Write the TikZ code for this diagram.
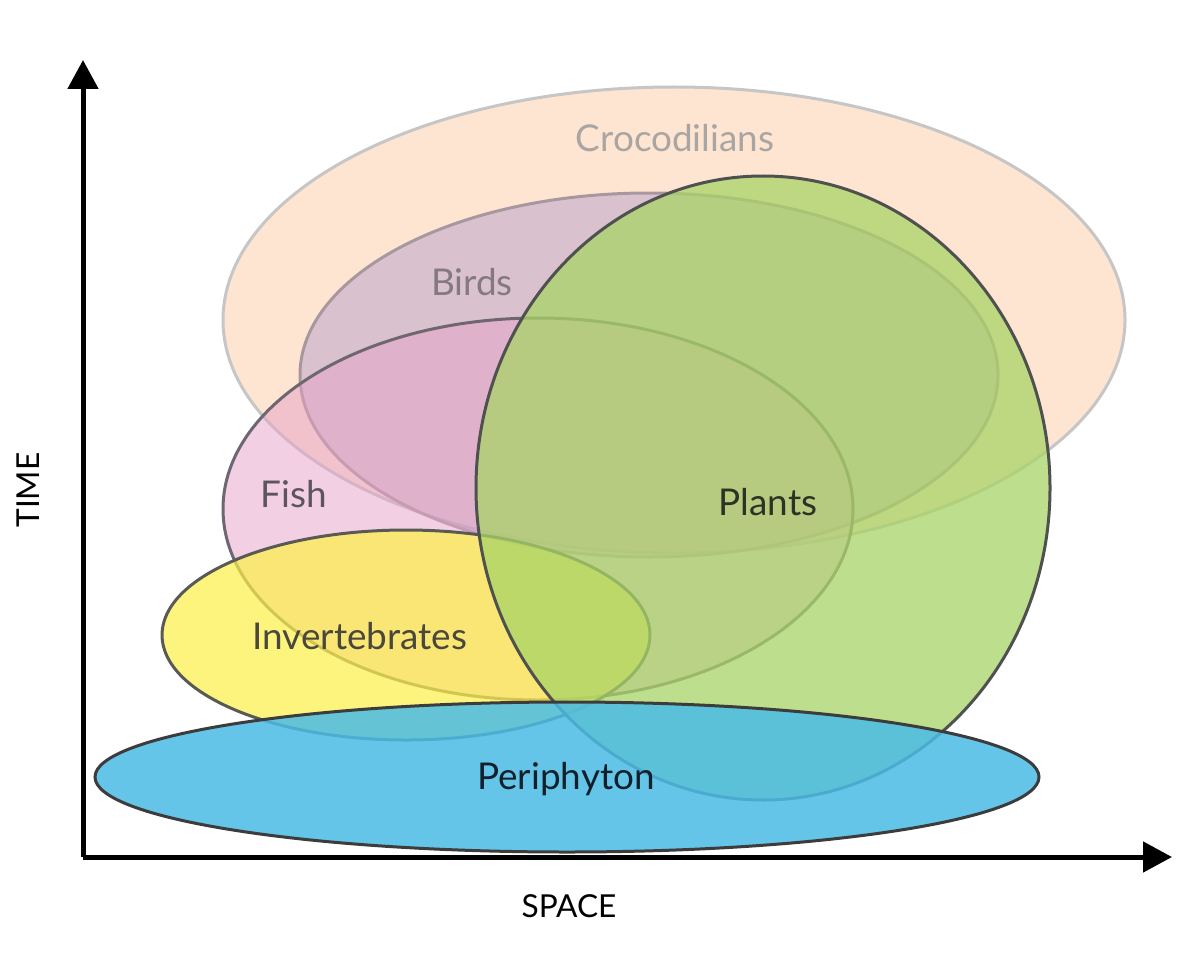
\documentclass[tikz,border=0pt]{standalone}
\usepackage{fontspec}
\setsansfont{Lato}
\usetikzlibrary{arrows.meta}
\definecolor{crocfill}{HTML}{FDE5D2}
\definecolor{crocline}{HTML}{C6C6C6}
\definecolor{croctext}{HTML}{A9A5A3}
\definecolor{birdfill}{HTML}{9682C8}
\definecolor{birdline}{HTML}{A8979F}
\definecolor{birdtext}{HTML}{857980}
\definecolor{fishfill}{HTML}{E7A1C7}
\definecolor{fishline}{HTML}{6E6670}
\definecolor{fishtext}{HTML}{5C5560}
\definecolor{invfill}{HTML}{FDF046}
\definecolor{invline}{HTML}{5A5A55}
\definecolor{invtext}{HTML}{4A473C}
\definecolor{plantfill}{HTML}{A8D466}
\definecolor{plantline}{HTML}{4F5050}
\definecolor{planttext}{HTML}{2C3325}
\definecolor{perifill}{HTML}{4ABCE6}
\definecolor{periline}{HTML}{3C3C3C}
\definecolor{peritext}{HTML}{11202A}

\begin{document}
\begin{tikzpicture}[
    x=0.02cm, y=-0.02cm,
    font=\sffamily,
    >={Triangle[length=0.58cm, width=0.6cm]},
    habitat/.style={line width=0.06cm},
    tag/.style={font=\sffamily\fontsize{21}{25}\selectfont, inner sep=0pt},
    axislabel/.style={font=\sffamily\fontsize{18}{22}\selectfont, inner sep=0pt,
                      text=black},
    axisarr/.style={->, line width=0.1cm, black},
]

\fill[white] (0,0) rectangle (1199,956);
\useasboundingbox (0,0) rectangle (1199,956);

% ════════════════════════════════════════════════════════════
% AXES
% ════════════════════════════════════════════════════════════
\coordinate (origin) at (83,857);
\coordinate (timetip) at (83,60);
\coordinate (spacetip) at (1172,857);

\draw[axisarr] (origin) -- (timetip);
\draw[axisarr] (origin) -- (spacetip);

\node[axislabel, rotate=90] (timelbl) at (28,490) {TIME};
\node[axislabel] (spacelbl) at (569,906) {SPACE};

% ════════════════════════════════════════════════════════════
% RANGES (bottom layer first)
% ════════════════════════════════════════════════════════════
\draw[habitat, draw=crocline, fill=crocfill]
    (674,320) ellipse [x radius=451, y radius=233];
\draw[habitat, draw=birdline, fill=birdfill, fill opacity=0.35]
    (649,375) ellipse [x radius=349, y radius=182];
\draw[habitat, draw=fishline, fill=fishfill, fill opacity=0.5]
    (538,509) ellipse [x radius=315, y radius=191];
\draw[habitat, draw=invline, fill=invfill, fill opacity=0.7]
    (406,635) ellipse [x radius=244, y radius=105];
\draw[habitat, draw=plantline, fill=plantfill, fill opacity=0.75]
    (763,488) ellipse [x radius=287, y radius=312];
\draw[habitat, draw=periline, fill=perifill, fill opacity=0.85]
    (567,777) ellipse [x radius=472, y radius=75];

% ── Labels ──
\node[tag, text=croctext] (croc) at (675,138) {Crocodilians};
\node[tag, text=birdtext] (birds) at (472,282) {Birds};
\node[tag, text=fishtext] (fish) at (294,494) {Fish};
\node[tag, text=planttext] (plants) at (768,502) {Plants};
\node[tag, text=invtext] (inverts) at (360,636) {Invertebrates};
\node[tag, text=peritext] (peri) at (566,779) {Periphyton};

\end{tikzpicture}
\end{document}
